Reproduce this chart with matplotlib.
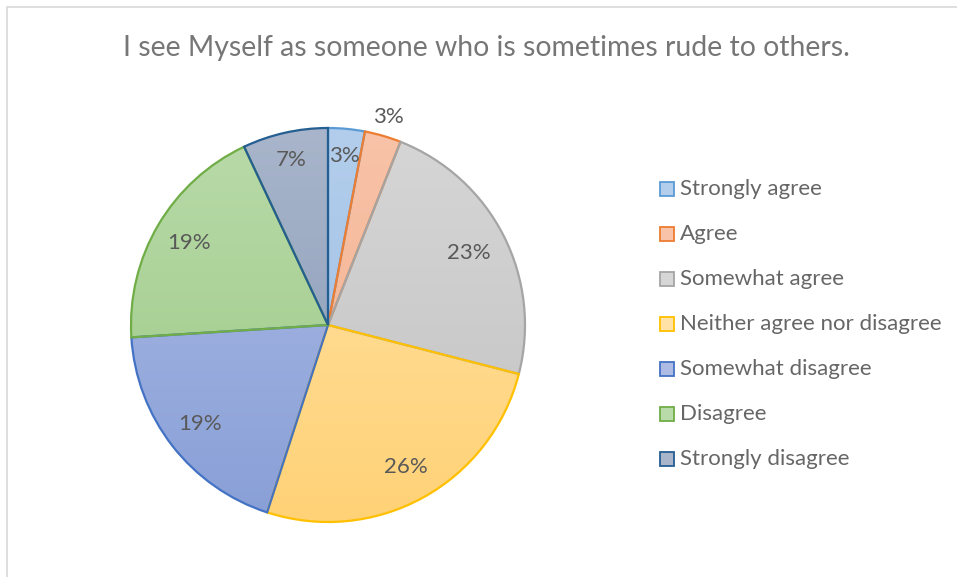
import matplotlib.pyplot as plt
import numpy as np
from matplotlib.colors import LinearSegmentedColormap

plt.rcParams['font.family'] = ['Lato', 'DejaVu Sans']

title = "I see Myself as someone who is sometimes rude to others."
labels = ["Strongly agree", "Agree", "Somewhat agree", "Neither agree nor disagree",
          "Somewhat disagree", "Disagree", "Strongly disagree"]
values = [3, 3, 23, 26, 19, 19, 7]

# light (top) / dark (bottom) fill and outline per slice
fill_top = ["#B3CEEC", "#F8C3A8", "#D6D6D6", "#FFE2A6", "#AEBCE5", "#B9DAA9", "#A8B5CB"]
fill_bot = ["#9CBCE4", "#F3AE8C", "#C2C2C2", "#FFD277", "#889FD7", "#9BC984", "#8799B5"]
edges = ["#5B9BD5", "#ED7D31", "#A5A5A5", "#FFC000", "#4472C4", "#70AD47", "#255E91"]
label_dist = [0.86, 1.10, 0.80, 0.82, 0.82, 0.82, 0.86]

W, H = 957, 577
fig = plt.figure(figsize=(W / 100, H / 100), dpi=100)

# chart frame
frame = plt.Rectangle((7 / W, -0.1), 1.2, (H - 7) / H + 0.1, transform=fig.transFigure,
                      fill=False, edgecolor="#D9D9D9", linewidth=1.2)
fig.patches.append(frame)

cx, cy, r = 328, 325, 197
ax = fig.add_axes([(cx - r) / W, (H - cy - r) / H, 2 * r / W, 2 * r / H])
wedges, _ = ax.pie(values, startangle=90, counterclock=False, radius=1,
                   wedgeprops=dict(linewidth=1.6, joinstyle="miter"))

grad = np.linspace(0, 1, 256).reshape(-1, 1)
for w, top, bot, ec in zip(wedges, fill_top, fill_bot, edges):
    w.set_facecolor("none")
    w.set_edgecolor(ec)
    w.set_zorder(3)
    cmap = LinearSegmentedColormap.from_list("g", [top, bot])
    im = ax.imshow(grad, cmap=cmap, extent=(-1, 1, -1, 1), origin="upper",
                   aspect="auto", zorder=2)
    im.set_clip_path(w)

for w, v, d in zip(wedges, values, label_dist):
    ang = np.deg2rad((w.theta1 + w.theta2) / 2)
    ax.text(d * np.cos(ang), d * np.sin(ang), f"{v}%", ha="center", va="center",
            fontsize=16, color="#595959", zorder=5)

ax.set_xlim(-1, 1)
ax.set_ylim(-1, 1)
ax.axis("off")

fig.text(486 / W, 1 - 48 / H, title, ha="center", va="center", fontsize=20.4,
         color="#767676")

# legend
for i, (lab, top, bot, ec) in enumerate(zip(labels, fill_top, fill_bot, edges)):
    y = 1 - (189 + 45 * i) / H
    sq = plt.Rectangle((660 / W, y - 7 / H), 14 / W, 14 / H, transform=fig.transFigure,
                       facecolor=top, edgecolor=ec, linewidth=1.3)
    fig.patches.append(sq)
    fig.text(680 / W, y, lab, ha="left", va="center", fontsize=16, color="#666666")

plt.savefig("out.png", dpi=100)
